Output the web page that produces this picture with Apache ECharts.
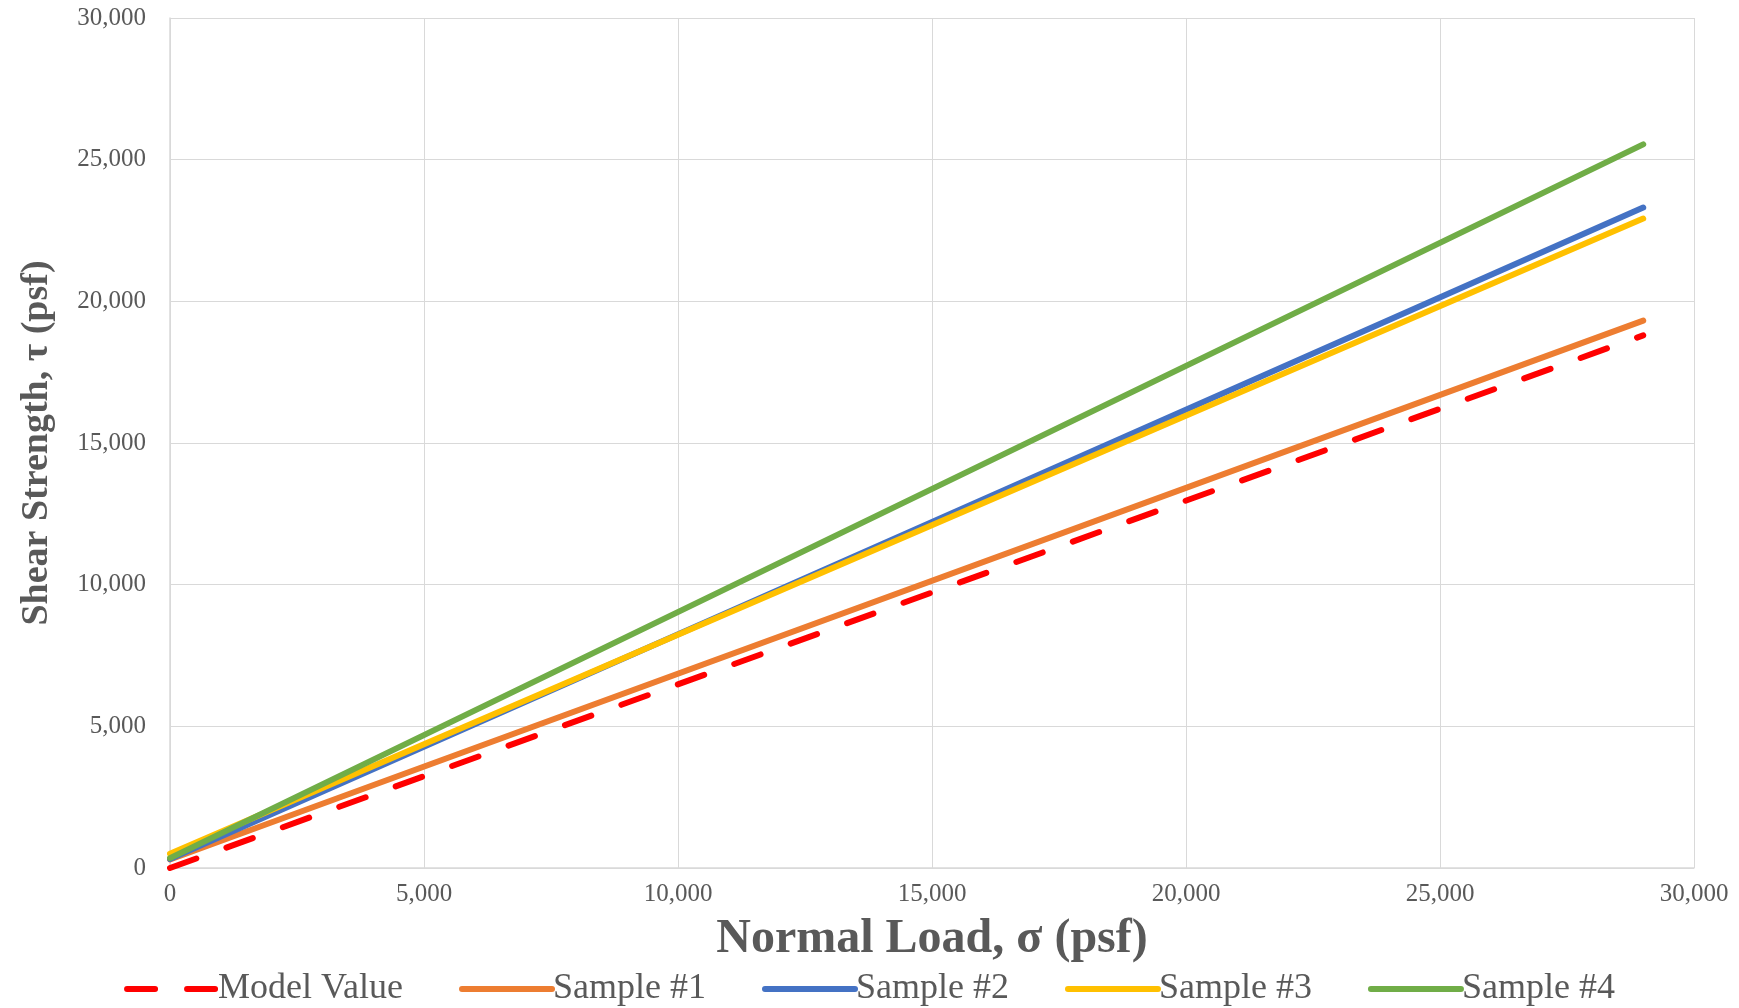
<!DOCTYPE html>
<html>
<head>
<meta charset="utf-8">
<script src="https://cdn.jsdelivr.net/npm/echarts@6/dist/echarts.min.js"></script>
<style>
  html, body { margin: 0; padding: 0; background: #fff; }
  #chart { width: 1739px; height: 1008px; }
</style>
</head>
<body>
<div id="chart"></div>
<script>
// normal load (psf) at the two ends of each fitted line
const normalLoad = [0, 29000];

// shear strength (psf)
const modelValue = [0, 18800];
const sample1 = [300, 19320];
const sample2 = [320, 23310];
const sample3 = [500, 22920];
const sample4 = [350, 25540];

const seriesNames = ['Model Value', 'Sample #1', 'Sample #2', 'Sample #3', 'Sample #4'];
const seriesColors = ['#FF0000', '#ED7D31', '#4472C4', '#FFC000', '#70AD47'];

const fontFamily = '"Liberation Serif", "DejaVu Serif", serif';
const textColor = '#595959';
const gridColor = '#D9D9D9';

const pairs = (ys) => normalLoad.map((x, i) => [x, ys[i]]);
const fmt = (v) => v.toLocaleString('en-US');

const chart = echarts.init(document.getElementById('chart'));

const makeLine = (name, ys, color, dashed) => ({
  name: name,
  type: 'line',
  data: pairs(ys),
  symbol: 'none',
  showSymbol: false,
  silent: true,
  z: dashed ? 5 : 3,
  lineStyle: {
    color: color,
    width: 6,
    cap: 'round',
    type: dashed ? [28, 32] : 'solid'
  },
  itemStyle: { color: color }
});

const option = {
  animation: false,
  backgroundColor: '#ffffff',
  grid: {
    left: 170,
    right: 45,
    top: 18,
    bottom: 140
  },
  legend: {
    top: 966,
    left: 'center',
    itemWidth: 90,
    itemHeight: 8,
    itemGap: 56,
    itemStyle: { opacity: 0 },
    lineStyle: { width: 6, cap: 'round' },
    textStyle: {
      fontFamily: fontFamily,
      fontSize: 36,
      color: textColor,
      padding: [0, 0, 0, -4]
    },
    data: seriesNames
  },
  xAxis: {
    type: 'value',
    min: 0,
    max: 30000,
    interval: 5000,
    name: 'Normal Load, σ (psf)',
    nameLocation: 'middle',
    nameGap: 48,
    nameTextStyle: {
      fontFamily: fontFamily,
      fontSize: 48,
      fontWeight: 'bold',
      color: textColor
    },
    axisLine: { show: true, lineStyle: { color: gridColor, width: 1.5 } },
    axisTick: { show: false },
    axisLabel: {
      margin: 14,
      fontFamily: fontFamily,
      fontSize: 25,
      color: textColor,
      formatter: fmt
    },
    splitLine: { show: true, lineStyle: { color: gridColor, width: 1 } }
  },
  yAxis: {
    type: 'value',
    min: 0,
    max: 30000,
    interval: 5000,
    name: 'Shear Strength, τ (psf)',
    nameLocation: 'middle',
    nameGap: 114,
    nameTextStyle: {
      fontFamily: fontFamily,
      fontSize: 38,
      fontWeight: 'bold',
      color: textColor
    },
    axisLine: { show: true, lineStyle: { color: gridColor, width: 1.5 } },
    axisTick: { show: false },
    axisLabel: {
      margin: 24,
      fontFamily: fontFamily,
      fontSize: 25,
      color: textColor,
      formatter: fmt
    },
    splitLine: { show: true, lineStyle: { color: gridColor, width: 1 } }
  },
  series: [
    makeLine(seriesNames[1], sample1, seriesColors[1], false),
    makeLine(seriesNames[2], sample2, seriesColors[2], false),
    makeLine(seriesNames[3], sample3, seriesColors[3], false),
    makeLine(seriesNames[4], sample4, seriesColors[4], false),
    makeLine(seriesNames[0], modelValue, seriesColors[0], true)
  ]
};

chart.setOption(option);
</script>
</body>
</html>
